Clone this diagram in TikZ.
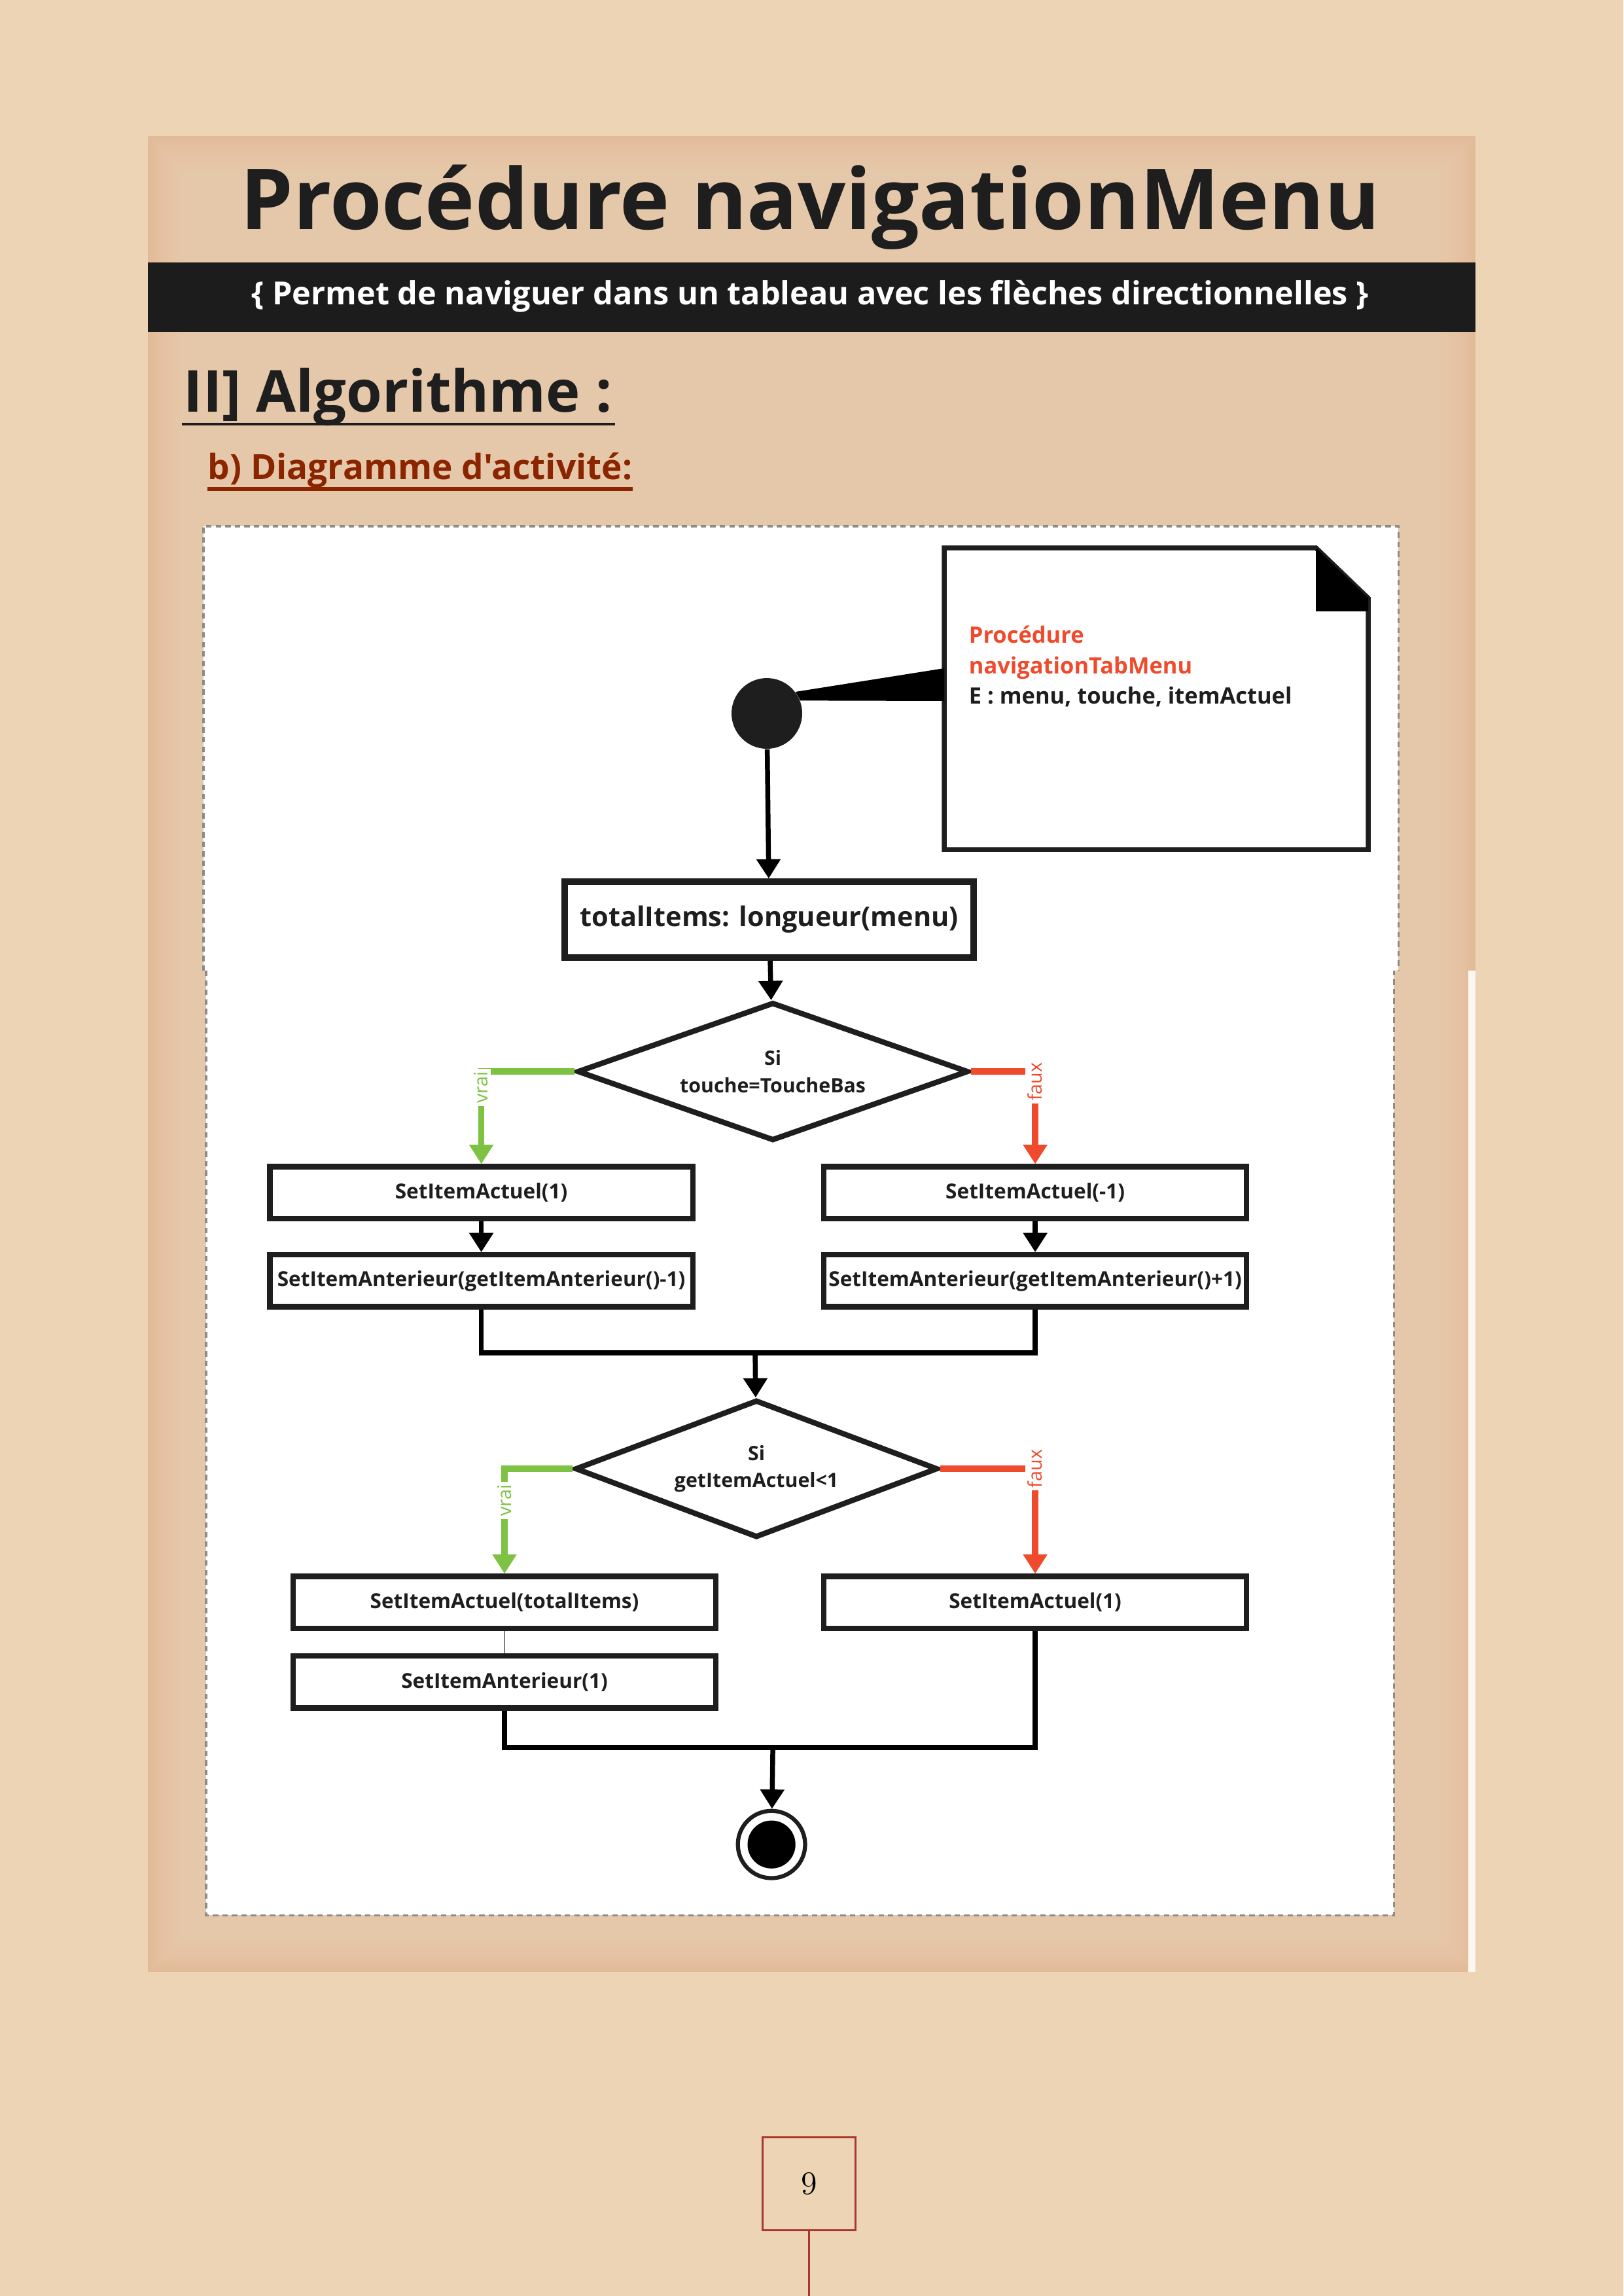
\documentclass[tikz,border=0pt]{standalone}
\usepackage{fontspec}
\newfontfamily\opensans{Open Sans}
\usepackage{xcolor}
\usetikzlibrary{arrows.meta}
\usetikzlibrary{calc}
\usetikzlibrary{positioning}
\usetikzlibrary{shapes.geometric}

\definecolor{papier}{HTML}{ECD4B4}
\definecolor{fond}{HTML}{E1BA98}
\definecolor{fondclair}{HTML}{EDD0B2}
\definecolor{bandeau}{HTML}{1C1C1C}
\definecolor{encre}{HTML}{1E1E1E}
\definecolor{rouille}{HTML}{8B2500}
\definecolor{vert}{HTML}{7DC242}
\definecolor{rouge}{HTML}{EF4A2B}
\definecolor{cadre}{HTML}{A8382D}
\definecolor{pointille}{HTML}{8C8C8C}

\begin{document}
\begin{tikzpicture}[x=1cm, y=-1cm,
    etape/.style={draw=encre, line width=2pt, fill=white, rectangle, inner sep=0pt,
      minimum width=5.47cm, minimum height=0.67cm, text=encre,
      font=\opensans\bfseries\fontsize{7.6}{9}\selectfont},
    choix/.style={draw=encre, line width=2pt, fill=white, diamond, inner sep=0pt,
      align=center, text=encre, font=\opensans\bfseries\fontsize{7.3}{10}\selectfont},
    fleche/.style={draw=black, line width=1.8pt, -{Triangle[length=0.25cm, width=0.3cm]}},
    jonction/.style={draw=black, line width=1.8pt},
    branchevrai/.style={draw=vert, line width=2.3pt, -{Triangle[length=0.25cm, width=0.3cm]}},
    branchefaux/.style={draw=rouge, line width=2.3pt, -{Triangle[length=0.25cm, width=0.3cm]}},
    garde/.style={fill=white, inner sep=1pt, rotate=90, font=\opensans\fontsize{6.9}{7}\selectfont},
    titre/.style={inner sep=0pt, text=encre, font=\opensans\bfseries},
  ]

      \useasboundingbox (0,0) rectangle (21,29.692);
      \fill[papier] (0,0) rectangle (21,29.692);

      \fill[fond] (1.913,1.761) rectangle (19.088,25.504);
      \foreach \d in {0.04,0.08,...,0.6}
        \fill[fondclair, opacity=0.12] (1.913+\d,1.761+\d) rectangle (19.088-\d,25.504-\d);
      \fill[white!80!fondclair] (18.99,12.553) rectangle (19.088,25.504);

      \node[titre, anchor=base, font=\opensans\bfseries\fontsize{31}{31}\selectfont] (entete) at (10.48,2.963) {Procédure navigationMenu};
      \fill[bandeau] (1.913,3.394) rectangle (19.088,4.292);
      \node[titre, anchor=base, text=white, font=\opensans\bfseries\fontsize{11.7}{12}\selectfont] (soustitre) at (10.48,3.936)
        {\{ Permet de naviguer dans un tableau avec les flèches directionnelles \}};

      \node[titre, anchor=base west, font=\opensans\bfseries\fontsize{21.3}{22}\selectfont] (partie) at (2.370,5.324) {II] Algorithme :};
      \draw[encre, line width=1pt] ($(partie.base west)+(-0.02,0.161)$) -- ($(partie.base east)+(0.03,0.161)$);
      \node[titre, anchor=base west, text=rouille, font=\opensans\bfseries\fontsize{12.8}{13}\selectfont] (section) at (2.683,6.204) {b) Diagramme d'activité:};
      \draw[rouille, line width=1.4pt] ($(section.base west)+(0,0.119)$) -- ($(section.base east)+(0,0.119)$);

      \fill[white] (2.633,6.806) rectangle (18.089,12.553);
      \fill[white] (2.666,12.553) rectangle (18.030,24.767);
      \draw[pointille, line width=0.8pt, dash pattern=on 2pt off 1.5pt]
        (2.633,12.553) -- (2.633,6.806) -- (18.089,6.806) -- (18.089,12.553);
      \draw[pointille, line width=0.8pt, dash pattern=on 2pt off 1.5pt]
        (2.666,12.553) -- (2.666,24.767) -- (18.030,24.767) -- (18.030,12.553);

      \draw[encre, line width=1.8pt, fill=white] (12.214,7.085) -- (17.022,7.085) -- (17.700,7.737)
        -- (17.700,10.987) -- (12.214,10.987) -- cycle;
      \fill[black] (17.022,7.085) -- (17.700,7.737) -- (17.700,7.906) -- (17.022,7.906) -- cycle;
      \node[titre, anchor=base west, text=rouge, font=\opensans\bfseries\fontsize{8.3}{11}\selectfont] (note1) at (12.527,8.312) {Procédure};
      \node[titre, anchor=base west, text=rouge, font=\opensans\bfseries\fontsize{8.3}{11}\selectfont] (note2) at (12.527,8.710) {navigationTabMenu};
      \node[titre, anchor=base west, font=\opensans\bfseries\fontsize{8.3}{11}\selectfont] (note3) at (12.527,9.099) {E : menu, touche, itemActuel};
      \coordinate (notea) at (12.214,8.642);
      \coordinate (noteb) at (12.214,9.065);

      \node[circle, fill=encre, minimum size=0.914cm, inner sep=0pt] (debut) at (9.920,9.226) {};
      \fill[black] (debut.37) -- (notea) -- (noteb) -- (debut.21) -- cycle;

      \node[etape, line width=2.4pt, minimum width=5.29cm, minimum height=0.98cm,
        font=\opensans\bfseries\fontsize{10}{12}\selectfont] (total) at (9.950,11.893) {totalItems: longueur(menu)};
      \node[choix, aspect=2.76, minimum width=5.06cm, minimum height=1.79cm] (si1) at (9.997,13.857) {Si\\touche=ToucheBas};

      \node[etape] (act1) at (6.226,15.423) {SetItemActuel(1)};
      \node[etape] (act2) at (13.391,15.423) {SetItemActuel(-1)};
      \node[etape, below=0.40cm of act1] (ant1) {SetItemAnterieur(getItemAnterieur()-1)};
      \node[etape, below=0.40cm of act2] (ant2) {SetItemAnterieur(getItemAnterieur()+1)};
      \coordinate (jonc1) at (9.768,17.496);

      \node[choix, aspect=2.58, minimum width=4.69cm, minimum height=1.78cm] (si2) at (9.785,18.994) {Si\\getItemActuel<1};

      \node[etape] (act3) at (6.526,20.721) {SetItemActuel(totalItems)};
      \node[etape, below=0.29cm of act3] (ant3) {SetItemAnterieur(1)};
      \node[etape] (act4) at (13.391,20.721) {SetItemActuel(1)};
      \coordinate (jonc2) at (9.997,22.600);

      \node[circle, draw=encre, line width=1.5pt, fill=white, minimum size=0.87cm, inner sep=0pt] (fin) at (9.980,23.853) {};
      \node[circle, fill=black, minimum size=0.62cm, inner sep=0pt] (finpoint) at (fin.center) {};

      \draw[fleche] (debut) -- (total);
      \draw[fleche] (total) -- (si1);
      \draw[branchevrai] (si1.west) -| (act1.north) node[pos=0.585, garde, text=vert] {vrai};
      \draw[branchefaux] (si1.east) -| (act2.north) node[pos=0.555, garde, text=rouge] {faux};
      \draw[fleche] (act1) -- (ant1);
      \draw[fleche] (act2) -- (ant2);
      \draw[jonction] (ant1.south) |- (jonc1) -| (ant2.south);
      \draw[fleche] (jonc1) -- (si2);

      \draw[branchevrai] (si2.west) -| (act3.north) node[pos=0.65, garde, text=vert] {vrai};
      \draw[branchefaux] (si2.east) -| (act4.north) node[pos=0.5, garde, text=rouge] {faux};
      \draw[gray, line width=0.3pt] (act3) -- (ant3);
      \draw[jonction] (ant3.south) |- (jonc2) -| (act4.south);
      \draw[fleche] (jonc2) -- (fin);

      \node[draw=cadre, line width=0.7pt, minimum size=1.2cm, inner sep=0pt, font=\fontsize{12}{12}\selectfont] (page) at (10.466,28.238) {9};
      \coordinate (pied) at (10.466,29.692);
      \draw[cadre, line width=0.7pt] (page.south) -- (pied);
    \end{tikzpicture}
\end{document}
